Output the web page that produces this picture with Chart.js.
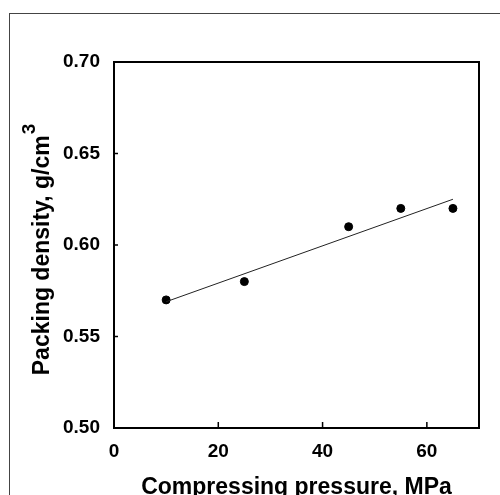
<!DOCTYPE html>
<html>
<head>
<meta charset="utf-8">
<script src="https://cdn.jsdelivr.net/npm/chart.js@4/dist/chart.umd.min.js"></script>
<style>
  html, body { margin: 0; padding: 0; background: #fff; }
  #wrap { position: relative; width: 500px; height: 495px; overflow: hidden; }
  #frame { position: absolute; left: 9px; top: 13px; width: 600px; height: 600px;
           border-left: 1.5px solid #444; border-top: 1.5px solid #444; }
  #chart { position: absolute; left: 0; top: 0; }
</style>
</head>
<body>
<div id="wrap">
  <div id="frame"></div>
  <canvas id="chart" width="500" height="495"></canvas>
</div>
<script>
const pressure = [10, 25, 45, 55, 65];
const density = [0.57, 0.58, 0.61, 0.62, 0.62];
const fitX = [10, 65];
const fitY = [0.569, 0.625];
const xTicks = [0, 20, 40, 60];
const yTicks = [0.5, 0.55, 0.6, 0.65, 0.7];

const FONT = "'Liberation Sans', Arial, sans-serif";

// plot frame, inward ticks and y title with superscript
const framePlugin = {
  id: "frame",
  afterDraw(chart) {
    const { ctx, chartArea: a, scales } = chart;
    ctx.save();
    ctx.strokeStyle = "#000";
    ctx.lineWidth = 2;
    ctx.strokeRect(a.left, a.top, a.right - a.left, a.bottom - a.top);
    ctx.lineWidth = 1.5;
    ctx.beginPath();
    scales.x.ticks.forEach((t) => {
      if (t.value === 0) return;
      const px = scales.x.getPixelForValue(t.value);
      ctx.moveTo(px, a.bottom);
      ctx.lineTo(px, a.bottom - 6);
    });
    scales.y.ticks.forEach((t) => {
      if (t.value === 0.5 || t.value === 0.7) return;
      const py = scales.y.getPixelForValue(t.value);
      ctx.moveTo(a.left, py);
      ctx.lineTo(a.left + 4, py);
    });
    ctx.stroke();

    // y axis title
    ctx.fillStyle = "#000";
    ctx.font = "bold 23px " + FONT;
    const main = "Packing density, g/cm";
    const wMain = ctx.measureText(main).width;
    ctx.font = "bold 19px " + FONT;
    const wSup = ctx.measureText("3").width;
    const cy = (a.top + a.bottom) / 2 + 5;
    ctx.translate(a.left - 65, cy + (wMain + wSup) / 2);
    ctx.rotate(-Math.PI / 2);
    ctx.textAlign = "left";
    ctx.textBaseline = "alphabetic";
    ctx.font = "bold 23px " + FONT;
    ctx.fillText(main, 0, 0);
    ctx.font = "bold 19px " + FONT;
    ctx.fillText("3", wMain + 1, -14);
    ctx.restore();
  },
};

new Chart(document.getElementById("chart"), {
  type: "scatter",
  data: {
    datasets: [
      {
        type: "line",
        data: fitX.map((x, i) => ({ x, y: fitY[i] })),
        borderColor: "#222",
        borderWidth: 1,
        pointRadius: 0,
        fill: false,
      },
      {
        data: pressure.map((x, i) => ({ x, y: density[i] })),
        backgroundColor: "#000",
        borderColor: "#000",
        pointRadius: 4,
      },
    ],
  },
  options: {
    responsive: false,
    animation: false,
    layout: { padding: { top: 62, right: 21, left: 0, bottom: 0 } },
    plugins: { legend: { display: false }, tooltip: { enabled: false } },
    scales: {
      x: {
        type: "linear",
        min: 0,
        max: 70,
        afterBuildTicks: (s) => { s.ticks = xTicks.map((v) => ({ value: v })); },
        afterFit: (s) => { s.height = 67; },
        grid: { display: false, drawTicks: false },
        border: { display: false },
        ticks: {
          padding: 12,
          color: "#000",
          font: { family: FONT, size: 19, weight: "bold" },
        },
        title: {
          display: true,
          text: "Compressing pressure, MPa",
          color: "#000",
          padding: { top: 0, bottom: 0 },
          font: { family: FONT, size: 23, weight: "bold", lineHeight: 0.6 },
        },
      },
      y: {
        min: 0.5,
        max: 0.7,
        afterBuildTicks: (s) => { s.ticks = yTicks.map((v) => ({ value: v })); },
        afterFit: (s) => { s.width = 114; },
        grid: { display: false, drawTicks: false },
        border: { display: false },
        ticks: {
          padding: 14,
          color: "#000",
          font: { family: FONT, size: 19, weight: "bold" },
          callback: (v) => v.toFixed(2),
        },
      },
    },
  },
  plugins: [framePlugin],
});
</script>
</body>
</html>
